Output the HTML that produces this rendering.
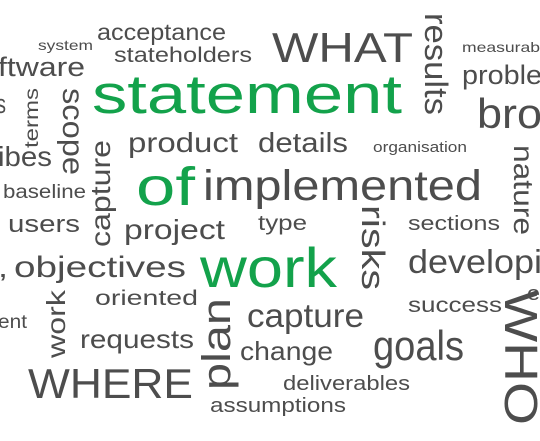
<!DOCTYPE html>
<html><head><meta charset="utf-8"><style>
html,body{margin:0;padding:0;background:#fff;}
svg{display:block;}
text{font-family:"Liberation Sans",sans-serif;fill:#4d4d4d;}
.g{fill:#13a24b;}
</style></head><body>
<svg width="540" height="441" viewBox="0 0 540 441">
<g id="words"></g>
</svg>
<script>
// word, x, baseline y, font size, width, rotation, green?
const words=["acceptance","system","stateholders","ftware","WHAT","measurab","proble","statement","bro","s","product","details","organisation","ibes","of","implemented","baseline","users","project","type","sections",",","objectives","work","developi","oriented","success","ent","capture","requests","change","goals","WHERE","deliverables","assumptions","results","terms","scope","capture","risks","nature","work","plan","WHO","e"];
const xs=[97,38,114,-2,272,462,462,92,477,-4,128,258,373,-2,136,203,3,8,124,258,408,-2,14,200,408,95,408,-2,247,80,240,373,28,283,210,425,38,63,110,362,514,65,230,505,527];
const ys=[40,50,62,76,62,52,84,113,128,113,152,152,152,166,205,200,198,232,239,230,230,277,277,287,273,305,312,328,327,348,360,360,398,390,412,13,148,88,247,205,145,358,390,290,300];
const sizes=[23,14,21,27,42,14,27,55,42,27,28,28,15,28,54,43,19,24,28,21,20,28,30,56,33,21,21,19,33,26,26,42,42,20,20,32,19,30,28,32,28,26,40,46,20];
const widths=[129,55,138,87,141,78,80,310,65,10,110,90,94,54,59,279,83,72,101,49,92,10,172,137,134,103,94,29,117,114,93,91,165,127,136,102,60,87,107,85,90,68,92,135,13];
const rots=[0,0,0,0,0,0,0,0,0,0,0,0,0,0,0,0,0,0,0,0,0,0,0,0,0,0,0,0,0,0,0,0,0,0,0,90,-90,90,-90,90,90,-90,-90,90,0];
const greens=["statement","of"];
const g=document.getElementById('words');
const NS='http://www.w3.org/2000/svg';
words.forEach((w,i)=>{
  const t=document.createElementNS(NS,'text');
  
  
  t.textContent=w;
  t.setAttribute('font-size',sizes[i]);
  t.setAttribute('textLength',widths[i]);
  t.setAttribute('lengthAdjust','spacingAndGlyphs');
  if(greens.includes(w)||(w==='work'&&i===23))t.setAttribute('class','g');
  if(rots[i]===0){t.setAttribute('x',xs[i]);t.setAttribute('y',ys[i]);}
  else t.setAttribute('transform','translate('+xs[i]+','+ys[i]+') rotate('+rots[i]+')');
  g.appendChild(t);
});
</script>
</body></html>
